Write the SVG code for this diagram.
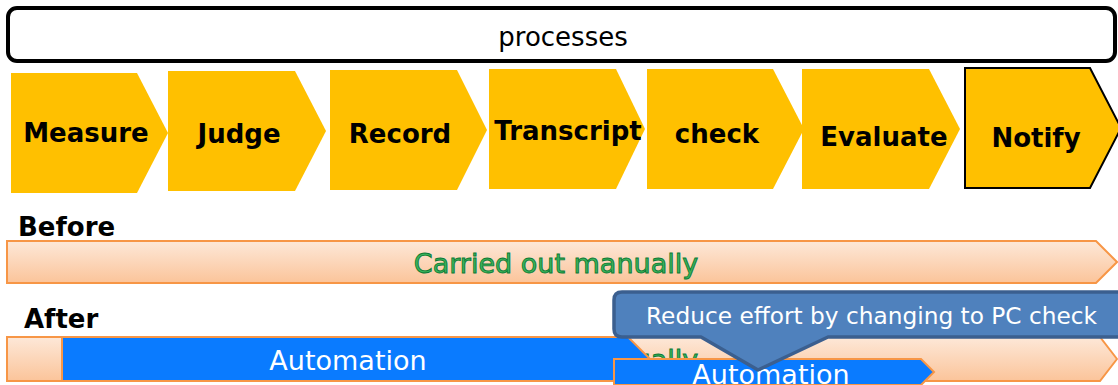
<svg xmlns="http://www.w3.org/2000/svg" width="1118" height="385" viewBox="0 0 1118 385">
<defs>
<linearGradient id="peach" x1="0" y1="0" x2="0" y2="1">
<stop offset="0" stop-color="#fde8d8"/>
<stop offset="1" stop-color="#fbc49a"/>
</linearGradient>
<style>
.step{fill:#ffc000;}
.lbl{font-family:"DejaVu Sans",Verdana,sans-serif;font-weight:bold;font-size:26px;fill:#000;text-anchor:middle;}
.reg{font-family:"DejaVu Sans",Verdana,sans-serif;font-size:26px;}
.bar{fill:url(#peach);stroke:#f79646;stroke-width:2;}
.blue{fill:#0a7bff;stroke:#f79646;stroke-width:2;}
.green{font-family:"DejaVu Sans",Verdana,sans-serif;font-size:27px;fill:#3cb45a;stroke:#0b7a35;stroke-width:0.9;text-anchor:middle;}
.white{fill:#fff;text-anchor:middle;}
</style>
</defs>
<rect width="1118" height="385" fill="#fff"/>
<g id="processes">
<rect x="8" y="8" width="1107" height="53" rx="9" fill="#fff" stroke="#000" stroke-width="4"/>
<text class="reg" x="563" y="46" text-anchor="middle" fill="#000">processes</text>
</g>
<g id="measure"><polygon class="step" points="11,73 137,73 168,133 137,193 11,193"/><text class="lbl" x="86" y="142">Measure</text></g>
<g id="judge"><polygon class="step" points="168,71 295,71 326,131 295,191 168,191"/><text class="lbl" x="239" y="143">Judge</text></g>
<g id="record"><polygon class="step" points="330,70 457,70 487,130 457,190 330,190"/><text class="lbl" x="400" y="143">Record</text></g>
<g id="transcript"><polygon class="step" points="489,69 616,69 645,129 616,189 489,189"/><text class="lbl" x="568" y="140">Transcript</text></g>
<g id="check"><polygon class="step" points="647,69 773,69 804,129 773,189 647,189"/><text class="lbl" x="717" y="143">check</text></g>
<g id="evaluate"><polygon class="step" points="802,69 929,69 960,129 929,189 802,189"/><text class="lbl" x="884" y="146">Evaluate</text></g>
<g id="notify"><polygon class="step" points="965,68 1090,68 1121,128 1090,188 965,188" stroke="#000" stroke-width="2"/><text class="lbl" x="1036" y="147">Notify</text></g>
<g id="before">
<text class="lbl" x="18" y="236" text-anchor="start" style="text-anchor:start">Before</text>
<polygon class="bar" points="7,241 1096,241 1117,262 1096,283 7,283"/>
<text class="green" x="556" y="273">Carried out manually</text>
</g>
<g id="after">
<text class="lbl" x="24" y="328" style="text-anchor:start">After</text>
<polygon class="bar" points="7,337 1100,337 1117,359 1100,381 7,381"/>
<text class="green" x="556" y="369">Carried out manually</text>
</g>
<g id="automation1">
<polygon class="blue" points="62,337 628,337 650,359 628,381 62,381"/>
<text class="reg white" x="348" y="370" style="font-size:27px">Automation</text>
</g>
<g id="automation2">
<polygon class="blue" points="614,359 921,359 934,372 921,385 614,385"/>
<text class="reg white" x="771" y="384" style="font-size:27px">Automation</text>
</g>
<g id="callout">
<path d="M622,292 H1130 V337 H828 L758,370 L701,337 H622 Q614,337 614,329 V300 Q614,292 622,292 Z" fill="#4f81bd" stroke="#3b5f8f" stroke-width="3.5" stroke-linejoin="round"/>
<text class="reg" x="646" y="324" fill="#fff" font-size="23" textLength="451" lengthAdjust="spacingAndGlyphs" style="font-size:23px">Reduce effort by changing to PC check</text>
</g>
<g id="connectors"/>
</svg>
